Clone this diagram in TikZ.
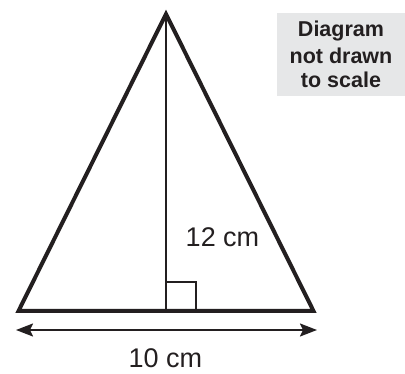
\documentclass[tikz,border=0pt]{standalone}
\usepackage{fontspec}
\setmainfont{Liberation Sans}
\usetikzlibrary{arrows.meta}
\definecolor{ink}{HTML}{231F20}
\definecolor{boxgrey}{HTML}{E6E7E8}
\tikzset{
  tri/.style={draw=ink, line width=4pt, line join=miter},
  thin/.style={draw=ink, line width=2pt},
  lbl/.style={anchor=base, inner sep=0pt, text=ink, font=\fontsize{27}{27}\selectfont},
  note/.style={anchor=base, inner sep=0pt, text=ink, font=\bfseries\fontsize{21.5}{21.5}\selectfont},
}
\begin{document}
\begin{tikzpicture}[x=1pt,y=-1pt]
\useasboundingbox (0,0) rectangle (405,374);
% note box
\fill[boxgrey] (277,13) rectangle (405,96);
\node[note] (n1) at (341,37) {Diagram};
\node[note] (n2) at (341,63.5) {not drawn};
\node[note] (n3) at (341,87.5) {to scale};
% triangle
\coordinate (A) at (166,14);
\coordinate (B) at (18.5,311);
\coordinate (C) at (313.5,311);
\coordinate (F) at (166,311);
\draw[thin] (A) -- (F);
\draw[thin] (166,282) -- (196,282) -- (196,311);
\draw[tri] (A) -- (B) -- (C) -- cycle;
% dimension arrow
\coordinate (L) at (16,330);
\coordinate (R) at (317,330);
\draw[thin, {Stealth[length=17pt,width=13pt,inset=3pt]}-{Stealth[length=17pt,width=13pt,inset=3pt]}] (L) -- (R);
\node[lbl] (base) at (165.5,368) {10 cm};
\node[lbl] (height) at (222.5,247) {12 cm};
\end{tikzpicture}
\end{document}
